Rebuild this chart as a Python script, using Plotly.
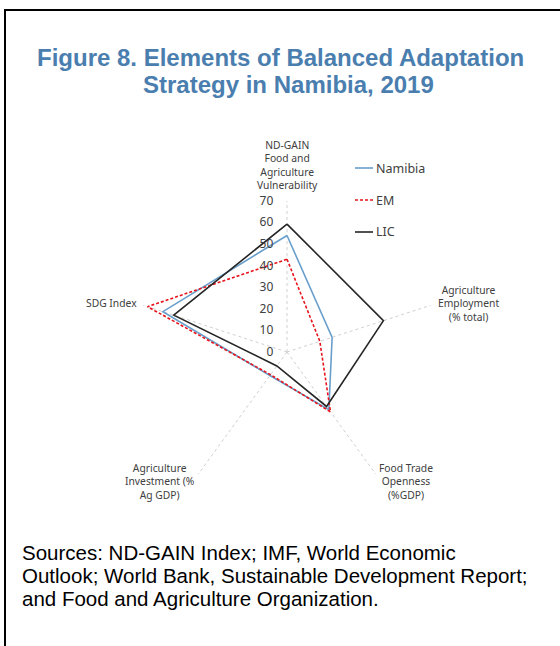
import plotly.graph_objects as go

# Radar axes (clockwise from the top)
categories = [
    "ND-GAIN Food and Agriculture Vulnerability",
    "Agriculture Employment (% total)",
    "Food Trade Openness (%GDP)",
    "Agriculture Investment (% Ag GDP)",
    "SDG Index",
]
# Wrapped versions used for the axis captions
category_captions = [
    "ND-GAIN<br>Food and<br>Agriculture<br>Vulnerability",
    "Agriculture<br>Employment<br>(% total)",
    "Food Trade<br>Openness<br>(%GDP)",
    "Agriculture<br>Investment (%<br>Ag GDP)",
    "SDG Index",
]

namibia = [54, 22, 33, 13.5, 60.5]
em = [43, 16, 34.3, 13, 68]
lic = [59.3, 47, 31.2, 8, 55.2]

radial_ticks = [0, 10, 20, 30, 40, 50, 60, 70]

series_names = ["Namibia", "EM", "LIC"]
series_values = [namibia, em, lic]
series_colors = ["#6A9FCC", "#E8141B", "#262626"]
series_dash = ["solid", "3px,2px", "solid"]

source_lines = [
    "Sources: ND-GAIN Index; IMF, World Economic",
    "Outlook; World Bank, Sustainable Development Report;",
    "and Food and Agriculture Organization.",
]

W, H = 560, 646
cx, cy, rad = 287, 352, 151


def px(x):
    return x / W


def py(y):
    return 1 - y / H


fig = go.Figure()
for name, vals, color, dash in zip(series_names, series_values, series_colors, series_dash):
    fig.add_trace(go.Scatterpolar(
        r=vals + vals[:1],
        theta=categories + categories[:1],
        mode="lines",
        name=name,
        line=dict(color=color, width=1.6, dash=dash),
        showlegend=False,
    ))

fig.update_layout(
    width=W, height=H,
    margin=dict(l=0, r=0, t=0, b=0),
    paper_bgcolor="white",
    plot_bgcolor="white",
    font=dict(family="Noto Sans, Open Sans, sans-serif", color="#404040"),
    polar=dict(
        domain=dict(x=[px(cx - rad), px(cx + rad)],
                    y=[py(cy + rad), py(cy - rad)]),
        bgcolor="white",
        gridshape="linear",
        radialaxis=dict(
            range=[0, 70],
            tickvals=radial_ticks,
            ticktext=[str(v) for v in radial_ticks],
            angle=90,
            side="counterclockwise",
            tickangle=90,
            showgrid=False,
            showline=False,
            ticks="outside",
            ticklen=9,
            tickcolor="rgba(0,0,0,0)",
            tickfont=dict(size=12, color="#404040"),
        ),
        angularaxis=dict(
            rotation=90,
            direction="clockwise",
            showline=False,
            showgrid=True,
            gridcolor="#D0D0D0",
            griddash="dot",
            gridwidth=1,
            ticks="",
            showticklabels=False,
        ),
    ),
    showlegend=False,
)

# Axis captions around the radar
caption_pos = [(287, 165), (468, 303), (406, 481), (160, 481), (111, 303)]
for text, (x, y) in zip(category_captions, caption_pos):
    fig.add_annotation(
        text=text, x=px(x), y=py(y), xref="paper", yref="paper",
        xanchor="center", yanchor="middle", align="center", showarrow=False,
        font=dict(size=10.3, color="#404040"),
    )

# Legend: short line sample followed by the series name
for i, (name, color, dash) in enumerate(zip(series_names, series_colors, series_dash)):
    y = 168 + 32 * i
    fig.add_shape(
        type="line", xref="paper", yref="paper",
        x0=px(355), x1=px(373), y0=py(y), y1=py(y),
        line=dict(color=color, width=1.6, dash=dash),
    )
    fig.add_annotation(
        text=name, x=px(374), y=py(y), xref="paper", yref="paper",
        xanchor="left", yanchor="middle", showarrow=False,
        font=dict(size=12.5, color="#404040"),
    )

# Title
fig.add_annotation(
    text="<b>Figure 8. Elements of Balanced Adaptation</b>",
    x=px(280), y=py(57), xref="paper", yref="paper",
    xanchor="center", yanchor="middle", showarrow=False,
    font=dict(family="Liberation Sans, Arial, sans-serif", size=24, color="#4A7EAF"),
)
fig.add_annotation(
    text="<b>Strategy in Namibia, 2019</b>",
    x=px(288), y=py(85), xref="paper", yref="paper",
    xanchor="center", yanchor="middle", showarrow=False,
    font=dict(family="Liberation Sans, Arial, sans-serif", size=24, color="#4A7EAF"),
)

# Source note, one annotation per line
for i, line in enumerate(source_lines):
    fig.add_annotation(
        text=line, x=px(20), y=py(552 + 23.3 * i), xref="paper", yref="paper",
        xanchor="left", yanchor="middle", showarrow=False,
        font=dict(family="Liberation Sans, Arial, sans-serif", size=20.5, color="#000000"),
    )

# Box frame
fig.add_shape(
    type="rect", xref="paper", yref="paper",
    x0=px(5), x1=1.05, y0=-0.05, y1=py(10),
    line=dict(color="black", width=2), fillcolor="rgba(0,0,0,0)",
)

fig.write_html("out.html")
